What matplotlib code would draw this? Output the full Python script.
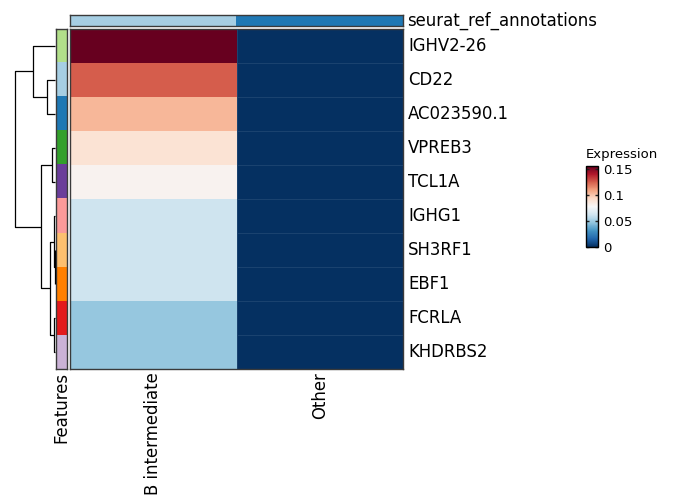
import numpy as np
import matplotlib
matplotlib.use("Agg")
import matplotlib.pyplot as plt
import matplotlib.transforms as mtrans
from matplotlib.colors import Normalize, ListedColormap
from matplotlib.cm import ScalarMappable

# ---------------- data ----------------
features = ["IGHV2-26", "CD22", "AC023590.1", "VPREB3", "TCL1A",
            "IGHG1", "SH3RF1", "EBF1", "FCRLA", "KHDRBS2"]
groups = ["B intermediate", "Other"]
b_intermediate = [0.156, 0.125, 0.104, 0.089, 0.081,
                  0.062, 0.062, 0.062, 0.048, 0.048]
other = [0.0, 0.0, 0.0, 0.0, 0.0, 0.0, 0.0, 0.0, 0.0, 0.0]
feature_colors = ["#b2df8a", "#a6cee3", "#1f78b4", "#33a02c", "#6a3d9a",
                  "#fb9a99", "#fdbf6f", "#ff7f00", "#e31a1c", "#cab2d6"]
group_colors = ["#a6cee3", "#1f78b4"]
# linkage: (left node, right node, height); leaves are 0..9, new nodes 10..
linkage = [(6, 7, 0.2), (5, 10, 1.0), (8, 9, 1.0), (3, 4, 3.0),
           (1, 2, 8.0), (11, 12, 5.0), (13, 15, 14.0), (0, 14, 22.0),
           (17, 16, 40.0)]
cbar_ticks = [0, 0.05, 0.1, 0.15]
cbar_ticklabels = ["0", "0.05", "0.1", "0.15"]
vmin, vmax = 0.0, 0.156

# ---------------- figure ----------------
W, H = 676, 500
fig = plt.figure(figsize=(W / 100, H / 100), dpi=100)
plt.rcParams['font.family'] = ['DejaVu Sans']


def px_axes(x0, y0, x1, y1):
    return fig.add_axes([x0 / W, 1 - y1 / H, (x1 - x0) / W, (y1 - y0) / H])


def offset(ax, dx, dy):
    return ax.transAxes + mtrans.ScaledTranslation(dx / 100, dy / 100,
                                                   fig.dpi_scale_trans)


mat = np.array([b_intermediate, other]).T
n = len(features)
cmap = plt.get_cmap("RdBu_r")
norm = Normalize(vmin=vmin, vmax=vmax)
edge = "#3a3a3a"
fs = 11.9

# heatmap
ax = px_axes(70, 29, 403, 369)
ax.pcolormesh(np.arange(3), np.arange(n + 1), mat, cmap=cmap, norm=norm,
              shading="flat")
ax.set_xlim(0, 2)
ax.set_ylim(n, 0)
# faint seams in dark column
for i in range(1, n):
    ax.plot([1, 2], [i, i], color="#1b4370", lw=0.7, zorder=3)
ax.plot([1.003, 1.003], [0, n], color="#1b4370", lw=0.7, zorder=3)
ax.set_xticks([])
ax.set_yticks([])
for s in ax.spines.values():
    s.set_color(edge)
    s.set_linewidth(1.0)
for i, f in enumerate(features):
    ax.text(1.0, 1 - (i + 0.5) / n, f, transform=offset(ax, 5, 0),
            ha="left", va="center", fontsize=fs)
for j, g in enumerate(groups):
    ax.text((j + 0.5) / 2, 0, g, transform=offset(ax, 0, -3),
            rotation=90, ha="center", va="top", fontsize=fs)

# top annotation
axt = px_axes(70, 15, 403, 26)
axt.imshow(np.arange(len(groups))[None, :], cmap=ListedColormap(group_colors),
           aspect="auto", extent=(0, 2, 1, 0))
axt.set_xlim(0, 2)
axt.set_xticks([])
axt.set_yticks([])
for s in axt.spines.values():
    s.set_color(edge)
    s.set_linewidth(1.0)
axt.text(1.0, 0.5, "seurat_ref_annotations", transform=offset(axt, 4, 0),
         ha="left", va="center", fontsize=fs)

# row annotation
axr = px_axes(56, 29, 67, 369)
axr.imshow(np.arange(n)[:, None], cmap=ListedColormap(feature_colors),
           aspect="auto", extent=(0, 1, n, 0))
axr.set_ylim(n, 0)
axr.set_xticks([])
axr.set_yticks([])
for s in axr.spines.values():
    s.set_color(edge)
    s.set_linewidth(1.0)
axr.text(0.5, 0, "Features", transform=offset(axr, 0, -3),
         rotation=90, ha="center", va="top", fontsize=fs)

# dendrogram
axd = px_axes(15, 29, 55, 369)
root_h = max(h for _, _, h in linkage)
pos = {i: i + 0.5 for i in range(n)}
hgt = {i: 0.0 for i in range(n)}
for k, (a, b, h) in enumerate(linkage):
    node = n + k
    ya, yb = pos[a], pos[b]
    axd.plot([hgt[a], h, h, hgt[b]], [ya, ya, yb, yb], color="black",
             lw=0.9, solid_capstyle="butt", clip_on=False)
    pos[node] = (ya + yb) / 2
    hgt[node] = h
axd.set_xlim(root_h, 0)
axd.set_ylim(n, 0)
axd.axis("off")

# colorbar
cax = px_axes(586, 166, 598, 247)
cb = fig.colorbar(ScalarMappable(norm=norm, cmap=cmap), cax=cax)
cb.set_ticks(cbar_ticks)
cb.set_ticklabels(cbar_ticklabels)
cb.outline.set_color("black")
cb.outline.set_linewidth(1.0)
cax.tick_params(direction="in", length=2.5, width=1, left=True, right=True,
                labelsize=9.5, pad=4, color="#222222")
cax.text(0, 1, "Expression", transform=offset(cax, 0, 5),
         ha="left", va="bottom", fontsize=9.5)

fig.savefig("out.png", dpi=100)
